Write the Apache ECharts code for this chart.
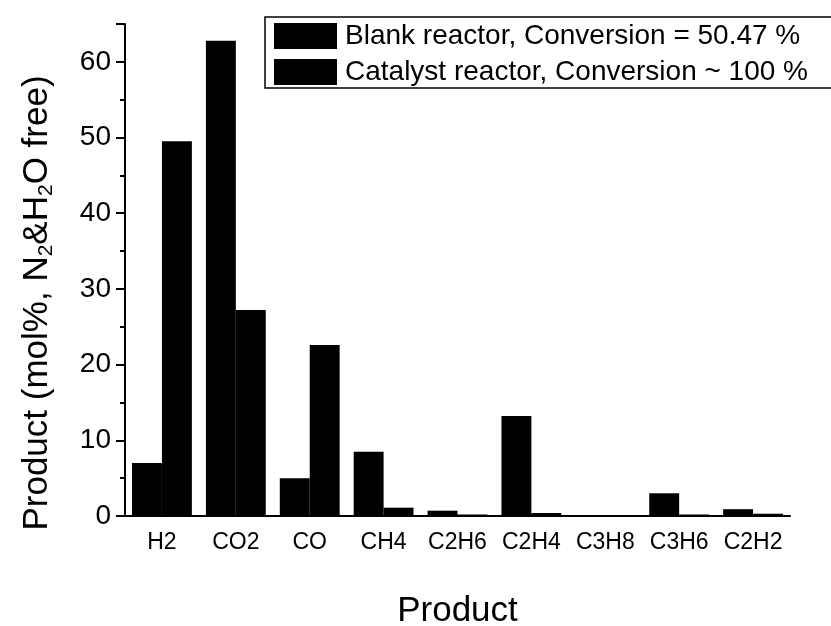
<!DOCTYPE html>
<html><head><meta charset="utf-8">
<script src="https://cdn.jsdelivr.net/npm/echarts@6/dist/echarts.min.js"></script>
<style>html,body{margin:0;padding:0;background:#fff}#c{width:831px;height:626px}</style>
</head><body><div id="c"></div>
<script>
var categories = ['H2','CO2','CO','CH4','C2H6','C2H4','C3H8','C3H6','C2H2'];
var blankValues = [7.0, 62.8, 5.0, 8.5, 0.7, 13.2, 0.1, 3.0, 0.9];
var catalystValues = [49.5, 27.2, 22.6, 1.1, 0.2, 0.4, 0.1, 0.2, 0.3];
var seriesNames = ['Blank reactor, Conversion = 50.47 %', 'Catalyst reactor, Conversion ~ 100 %'];
var yTicks = [0, 10, 20, 30, 40, 50, 60];

var font = 'Liberation Sans, Arial, sans-serif';
var chart = echarts.init(document.getElementById('c'));
chart.setOption({
  animation: false,
  backgroundColor: '#fff',
  grid: {left: 125, right: 41, top: 24, bottom: 110, containLabel: false, outerBoundsMode: 'none'},
  legend: {
    data: seriesNames,
    left: 265, top: 17,
    orient: 'vertical',
    icon: 'rect',
    itemWidth: 63, itemHeight: 26,
    itemGap: 8,
    padding: [5, 24, 2, 9],
    borderColor: '#000', borderWidth: 1.5,
    textStyle: {fontFamily: font, fontSize: 28, color: '#000', padding: [0, 0, 0, 3]}
  },
  xAxis: [{
    type: 'category', data: categories,
    axisLine: {lineStyle: {color: '#000', width: 2}},
    axisTick: {alignWithLabel: true, interval: 0, length: 11, lineStyle: {color: '#000', width: 2}},
    axisLabel: {interval: 0, hideOverlap: false, fontFamily: font, fontSize: 23, color: '#000', margin: 15},
    name: 'Product', nameLocation: 'middle', nameGap: 78,
    nameTextStyle: {fontFamily: font, fontSize: 35, color: '#000'}
  }, {
    type: 'category', data: categories, position: 'bottom',
    axisLine: {show: false},
    axisTick: {interval: 0, length: 5, lineStyle: {color: '#000', width: 2}},
    axisLabel: {show: false}
  }],
  yAxis: {
    type: 'value', min: 0, max: 65, interval: 10,
    axisLine: {show: true, lineStyle: {color: '#000', width: 2}},
    axisTick: {show: true, length: 9, lineStyle: {color: '#000', width: 2}},
    minorTick: {show: true, splitNumber: 2, length: 5, lineStyle: {color: '#000', width: 2}},
    splitLine: {show: false},
    axisLabel: {fontFamily: font, fontSize: 28, color: '#000', margin: 14,
      formatter: function (v) { return yTicks.indexOf(v) >= 0 ? String(v) : ''; }},
    name: '{a|Product (mol%, N}{s|2}{a|&H}{s|2}{a|O free)}',
    nameLocation: 'middle', nameGap: 68, nameRotate: 90,
    nameTextStyle: {
      padding: [0, 66, 0, 0],
      rich: {
        a: {fontFamily: font, fontSize: 35, color: '#000'},
        s: {fontFamily: font, fontSize: 21, color: '#000', verticalAlign: 'bottom', padding: [18, 0, 0, 0]}
      }
    }
  },
  series: [{
    name: seriesNames[0], type: 'bar', data: blankValues,
    itemStyle: {color: '#000'}, barGap: '0%', barCategoryGap: '19%'
  }, {
    name: seriesNames[1], type: 'bar', data: catalystValues,
    itemStyle: {color: '#000'}, barGap: '0%', barCategoryGap: '19%'
  }]
});
</script></body></html>
